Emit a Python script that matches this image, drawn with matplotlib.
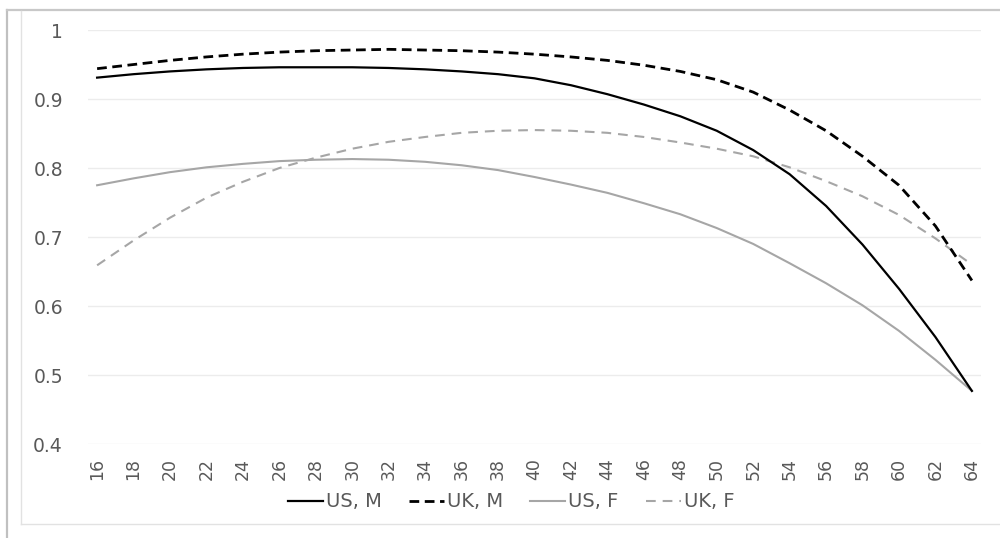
import matplotlib
matplotlib.use("Agg")
import matplotlib.pyplot as plt
from matplotlib.lines import Line2D

# -----------------------------------------------------------
# dados (idade x valor)
# -----------------------------------------------------------

idades = [16, 18, 20, 22, 24, 26, 28, 30, 32, 34, 36, 38, 40,
          42, 44, 46, 48, 50, 52, 54, 56, 58, 60, 62, 64]

us_m = [0.931, 0.936, 0.940, 0.943, 0.945, 0.946, 0.946, 0.946, 0.945, 0.943, 0.940, 0.936, 0.930,
        0.920, 0.907, 0.892, 0.875, 0.854, 0.826, 0.791, 0.745, 0.689, 0.625, 0.555, 0.477]

uk_m = [0.944, 0.950, 0.956, 0.961, 0.965, 0.968, 0.970, 0.971, 0.972, 0.971, 0.970, 0.968, 0.965,
        0.961, 0.956, 0.949, 0.940, 0.928, 0.910, 0.884, 0.854, 0.817, 0.775, 0.716, 0.637]

us_f = [0.775, 0.785, 0.794, 0.801, 0.806, 0.810, 0.812, 0.813, 0.812, 0.809, 0.804, 0.797, 0.787,
        0.776, 0.764, 0.749, 0.733, 0.713, 0.690, 0.662, 0.633, 0.601, 0.564, 0.522, 0.477]

uk_f = [0.659, 0.695, 0.728, 0.757, 0.780, 0.800, 0.815, 0.828, 0.838, 0.845, 0.851, 0.854, 0.855,
        0.854, 0.851, 0.845, 0.837, 0.828, 0.817, 0.801, 0.781, 0.759, 0.732, 0.698, 0.660]

nomes = ["US, M", "UK, M", "US, F", "UK, F"]
y_ticks = [0.4, 0.5, 0.6, 0.7, 0.8, 0.9, 1.0]
y_rotulos = ["0.4", "0.5", "0.6", "0.7", "0.8", "0.9", "1"]

# -----------------------------------------------------------
# figura
# -----------------------------------------------------------

plt.rcParams["font.family"] = "DejaVu Sans"
plt.rcParams["lines.scale_dashes"] = False

fig = plt.figure(figsize=(10, 5.38), dpi=100)
ax = fig.add_axes([0.088, 0.1747, 0.893, 0.7695])

cinza = "#a6a6a6"
ax.plot(idades, us_m, color="black", linewidth=1.6, label=nomes[0], zorder=4)
ax.plot(idades, uk_m, color="black", linewidth=2.0, dashes=(7, 4), label=nomes[1], zorder=4)
ax.plot(idades, us_f, color=cinza, linewidth=1.5, label=nomes[2], zorder=3)
ax.plot(idades, uk_f, color=cinza, linewidth=1.5, dashes=(7, 5), label=nomes[3], zorder=3)

ax.set_xlim(15.5, 64.5)
ax.set_ylim(0.4, 1.0)
ax.set_xticks(idades)
ax.set_xticklabels([str(i) for i in idades], rotation=90, fontsize=12.5, color="#595959")
ax.set_yticks(y_ticks)
ax.set_yticklabels(y_rotulos, fontsize=13.5, color="#595959")
ax.tick_params(axis="both", length=0)
ax.tick_params(axis="y", pad=18)
ax.tick_params(axis="x", pad=10)

ax.grid(axis="y", color="#ececec", linewidth=1.0)
ax.set_axisbelow(True)
for lado in ax.spines.values():
    lado.set_visible(False)

fig.legend(loc="center", bbox_to_anchor=(0.511, 0.067), ncol=4, frameon=False,
           fontsize=14, labelcolor="#595959", handlelength=1.8,
           handletextpad=0.15, columnspacing=1.4)

# bordas do recorte da imagem
fig.add_artist(Line2D([0.007, 0.007], [0, 1 - 10 / 538], color="#c0c0c0", linewidth=1.6))
fig.add_artist(Line2D([0.007, 1], [1 - 10 / 538, 1 - 10 / 538], color="#c8c8c8", linewidth=1.6))
fig.add_artist(Line2D([0.021, 0.021], [1 - 524 / 538, 1 - 11 / 538], color="#e2e2e2", linewidth=1.0))
fig.add_artist(Line2D([0.021, 1], [1 - 524 / 538, 1 - 524 / 538], color="#e2e2e2", linewidth=1.0))

fig.savefig("out.png", dpi=100)
plt.close()
